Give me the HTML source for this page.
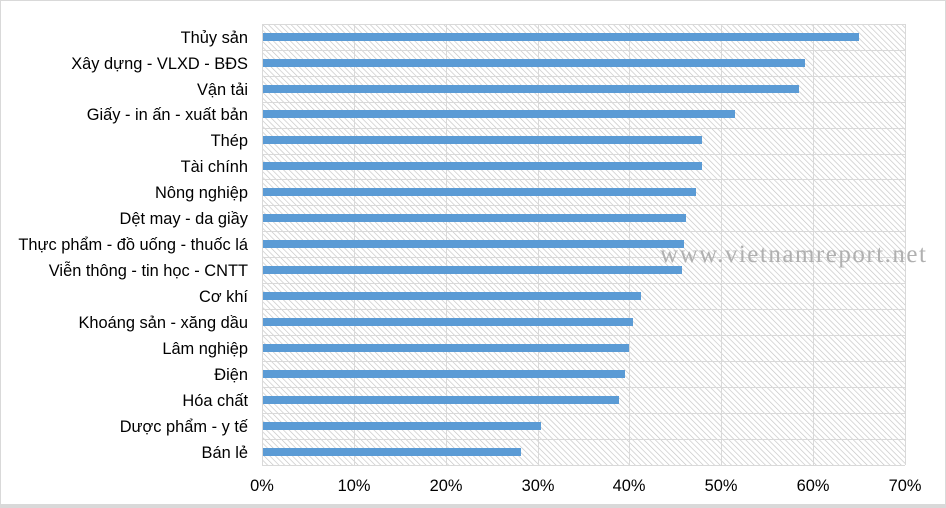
<!DOCTYPE html>
<html><head><meta charset="utf-8"><style>
body{margin:0;background:#fff;}
svg{display:block;font-family:"Liberation Sans",sans-serif;}
</style></head><body>
<svg width="946" height="508" viewBox="0 0 946 508" xmlns="http://www.w3.org/2000/svg">
<defs>
<pattern id="h" width="4" height="4" patternUnits="userSpaceOnUse" patternTransform="rotate(-45)">
<rect width="4" height="4" fill="#fff"/>
<line x1="0" y1="0" x2="0" y2="4" stroke="#c4c4c4" stroke-width="1.3"/>
</pattern>
</defs>
<rect x="0.5" y="0.5" width="945" height="507" fill="#fff" stroke="#d9d9d9"/>
<rect x="262" y="24" width="643" height="441" fill="url(#h)"/>
<g stroke="#d9d9d9" stroke-width="1">
<line x1="262" y1="24.5" x2="905" y2="24.5"/>
<line x1="262" y1="50.5" x2="905" y2="50.5"/>
<line x1="262" y1="76.5" x2="905" y2="76.5"/>
<line x1="262" y1="102.5" x2="905" y2="102.5"/>
<line x1="262" y1="128.5" x2="905" y2="128.5"/>
<line x1="262" y1="154.5" x2="905" y2="154.5"/>
<line x1="262" y1="179.5" x2="905" y2="179.5"/>
<line x1="262" y1="205.5" x2="905" y2="205.5"/>
<line x1="262" y1="231.5" x2="905" y2="231.5"/>
<line x1="262" y1="257.5" x2="905" y2="257.5"/>
<line x1="262" y1="283.5" x2="905" y2="283.5"/>
<line x1="262" y1="309.5" x2="905" y2="309.5"/>
<line x1="262" y1="335.5" x2="905" y2="335.5"/>
<line x1="262" y1="361.5" x2="905" y2="361.5"/>
<line x1="262" y1="387.5" x2="905" y2="387.5"/>
<line x1="262" y1="413.5" x2="905" y2="413.5"/>
<line x1="262" y1="439.5" x2="905" y2="439.5"/>
<line x1="262" y1="465.5" x2="905" y2="465.5"/>
<line x1="262.5" y1="24" x2="262.5" y2="465"/>
<line x1="354.5" y1="24" x2="354.5" y2="465"/>
<line x1="446.5" y1="24" x2="446.5" y2="465"/>
<line x1="538.5" y1="24" x2="538.5" y2="465"/>
<line x1="629.5" y1="24" x2="629.5" y2="465"/>
<line x1="721.5" y1="24" x2="721.5" y2="465"/>
<line x1="813.5" y1="24" x2="813.5" y2="465"/>
<line x1="905.5" y1="24" x2="905.5" y2="465"/>
</g>
<text x="926" y="262" font-family="Liberation Serif,serif" font-size="25" fill="#b0b0b0" text-anchor="end" textLength="266">www.vietnamreport.net</text>
<g fill="#5b9bd5">
<rect x="263" y="33" width="596" height="8"/>
<rect x="263" y="59" width="542" height="8"/>
<rect x="263" y="85" width="536" height="8"/>
<rect x="263" y="110" width="472" height="8"/>
<rect x="263" y="136" width="439" height="8"/>
<rect x="263" y="162" width="439" height="8"/>
<rect x="263" y="188" width="433" height="8"/>
<rect x="263" y="214" width="423" height="8"/>
<rect x="263" y="240" width="421" height="8"/>
<rect x="263" y="266" width="419" height="8"/>
<rect x="263" y="292" width="378" height="8"/>
<rect x="263" y="318" width="370" height="8"/>
<rect x="263" y="344" width="366" height="8"/>
<rect x="263" y="370" width="362" height="8"/>
<rect x="263" y="396" width="356" height="8"/>
<rect x="263" y="422" width="278" height="8"/>
<rect x="263" y="448" width="258" height="8"/>
</g>
<g font-size="16.4" fill="#000" text-anchor="end">
<text x="248" y="43">Thủy sản</text>
<text x="248" y="69">Xây dựng - VLXD - BĐS</text>
<text x="248" y="95">Vận tải</text>
<text x="248" y="120">Giấy - in ấn - xuất bản</text>
<text x="248" y="146">Thép</text>
<text x="248" y="172">Tài chính</text>
<text x="248" y="198">Nông nghiệp</text>
<text x="248" y="224">Dệt may - da giầy</text>
<text x="248" y="250">Thực phẩm - đồ uống - thuốc lá</text>
<text x="248" y="276">Viễn thông - tin học - CNTT</text>
<text x="248" y="302">Cơ khí</text>
<text x="248" y="328">Khoáng sản - xăng dầu</text>
<text x="248" y="354">Lâm nghiệp</text>
<text x="248" y="380">Điện</text>
<text x="248" y="406">Hóa chất</text>
<text x="248" y="432">Dược phẩm - y tế</text>
<text x="248" y="458">Bán lẻ</text>
</g>
<g font-size="16.4" fill="#000" text-anchor="middle">
<text x="262" y="491">0%</text>
<text x="354" y="491">10%</text>
<text x="446" y="491">20%</text>
<text x="538" y="491">30%</text>
<text x="629" y="491">40%</text>
<text x="721" y="491">50%</text>
<text x="813" y="491">60%</text>
<text x="905" y="491">70%</text>
</g>
<rect x="0" y="504" width="946" height="4" fill="#d9d9d9"/>
</svg>
</body></html>
